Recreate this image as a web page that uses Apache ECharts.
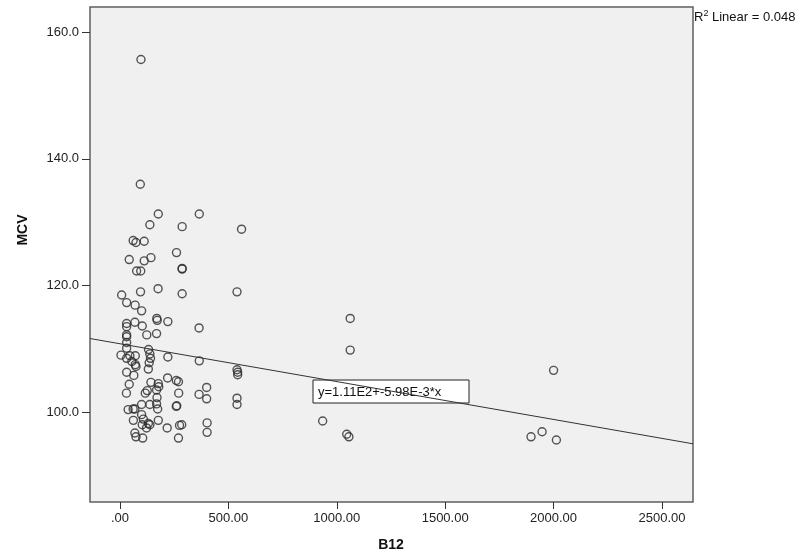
<!DOCTYPE html>
<html>
<head>
<meta charset="utf-8">
<script src="https://cdn.jsdelivr.net/npm/echarts@6/dist/echarts.min.js"></script>
<style>
html,body{margin:0;padding:0;background:#fff;}
#chart{width:808px;height:560px;}
</style>
</head>
<body>
<div id="chart"></div>
<script>
// B12 values (x) and MCV values (y)
const b12 = [97,94,177,366,138,287,561,61,74,112,261,43,112,143,77,96,287,287,176,95,287,540,8,31,70,100,170,172,221,31,69,103,31,365,31,31,124,169,31,31,132,5,31,46,71,138,141,221,366,55,71,74,135,540,543,543,131,31,64,220,143,177,179,260,270,43,400,30,117,126,169,171,271,365,400,540,540,38,61,100,138,169,174,260,262,69,62,100,108,103,131,123,177,218,275,285,402,402,69,74,105,270,138,935,1062,1062,1046,1056,2000,1896,1947,2013];
const mcv = [155.7,136.0,131.3,131.3,129.6,129.3,128.9,127.1,126.8,127.0,125.2,124.1,123.9,124.4,122.3,122.3,122.6,122.7,119.5,119.0,118.7,119.0,118.5,117.3,116.9,116.0,114.8,114.5,114.3,114.0,114.2,113.6,113.5,113.3,112.2,111.9,112.2,112.4,111.0,110.1,109.9,109.0,108.5,108.9,108.9,109.2,108.5,108.7,108.1,108.0,107.5,107.2,107.8,106.7,106.3,105.9,106.8,106.3,105.8,105.4,104.7,104.5,104.0,105.0,104.8,104.4,103.9,103.0,103.0,103.4,103.5,102.3,103.0,102.8,102.1,102.2,101.2,100.4,100.5,101.2,101.2,101.3,100.5,100.9,101.0,100.5,98.7,99.6,98.9,98.0,98.2,97.5,98.7,97.5,97.9,98.0,98.3,96.8,96.7,96.1,95.9,95.9,98.0,98.6,114.8,109.8,96.5,96.1,106.6,96.1,96.9,95.6];
const xTicks = [0,500,1000,1500,2000,2500];
const yTicks = [100,120,140,160];
const xRange = [-138, 2643];
const yRange = [85.8, 164.0];
const fitIntercept = 110.8;
const fitSlope = -0.00598;
const fitLabel = 'y=1.11E2+-5.98E-3*x';
const r2Text = '0.048';

const points = b12.map((v,i)=>[v, mcv[i]]);
const fitLine = xRange.map(x=>[x, fitIntercept + fitSlope*x]);

const FONT = 'Liberation Sans, Arial, sans-serif';
const chart = echarts.init(document.getElementById('chart'), null, {renderer:'canvas'});
chart.setOption({
  animation:false,
  backgroundColor:'#ffffff',
  grid:{left:90, right:115, top:7, bottom:58, show:true, backgroundColor:'#f0f0f0', borderColor:'#5f5f5f', borderWidth:1.5},
  xAxis:{
    type:'value', min:xRange[0], max:xRange[1],
    axisLine:{show:false, onZero:false},
    splitLine:{show:false},
    axisTick:{show:true, length:7, customValues:xTicks, lineStyle:{color:'#333'}},
    axisLabel:{customValues:xTicks, margin:10, color:'#222', fontFamily:FONT, fontSize:13,
      formatter:v=>{const s=v.toFixed(2); return s.startsWith('0')?s.slice(1):s;}}
  },
  yAxis:{
    type:'value', min:yRange[0], max:yRange[1],
    axisLine:{show:false, onZero:false},
    splitLine:{show:false},
    axisTick:{show:true, length:8, customValues:yTicks, lineStyle:{color:'#333'}},
    axisLabel:{customValues:yTicks, margin:11, color:'#222', fontFamily:FONT, fontSize:13,
      formatter:v=>v.toFixed(1)}
  },
  series:[
    {type:'line', data:fitLine, symbol:'none', silent:true, lineStyle:{color:'#333', width:1}, z:3},
    {type:'scatter', data:points, symbol:'circle', symbolSize:8,
      itemStyle:{color:'rgba(0,0,0,0)', borderColor:'#2a2a2a', borderWidth:1.4}, z:4}
  ],
  graphic:[
    {type:'text', x:23, y:230, rotation:Math.PI/2, style:{text:'MCV', font:'bold 14px '+FONT, fill:'#111', textAlign:'center', textVerticalAlign:'middle'}},
    {type:'text', x:391, y:545, style:{text:'B12', font:'bold 14px '+FONT, fill:'#111', textAlign:'center', textVerticalAlign:'middle'}},
    {type:'group', x:313, y:380, children:[
      {type:'rect', shape:{x:0,y:0,width:156,height:23}, style:{fill:'#fff', stroke:'#222', lineWidth:1}},
      {type:'text', x:5, y:12, style:{text:fitLabel, font:'13px '+FONT, fill:'#111', textVerticalAlign:'middle'}}
    ], z:10},
    {type:'text', x:694, y:17, style:{rich:{a:{font:'13px '+FONT, fill:'#111'}, s:{font:'9px '+FONT, fill:'#111', verticalAlign:'top', padding:[0,0,6,0]}}, text:'{a|R}{s|2}{a| Linear = '+r2Text+'}', textVerticalAlign:'middle'}}
  ]
});
</script>
</body>
</html>
